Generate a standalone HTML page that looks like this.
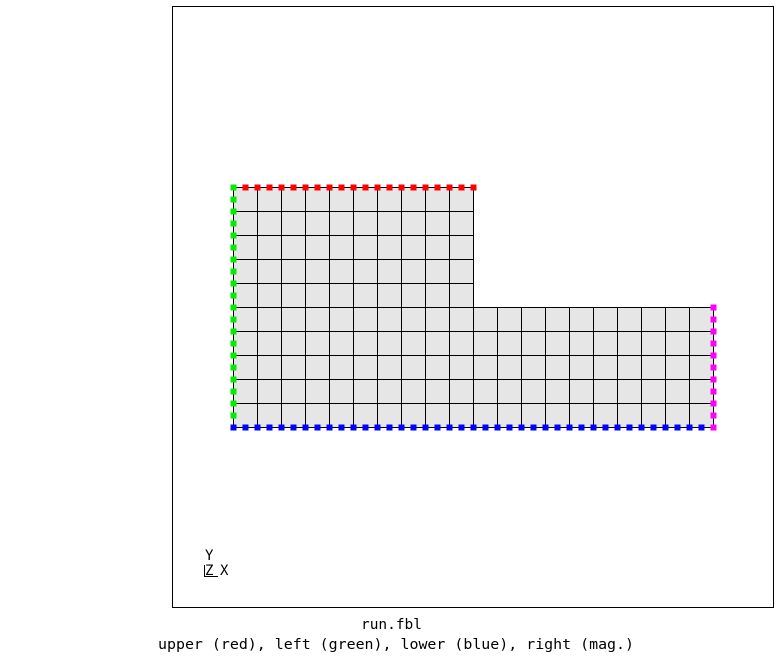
<!DOCTYPE html>
<html><head><meta charset="utf-8"><style>
html,body{margin:0;padding:0;background:#fff;width:784px;height:672px;overflow:hidden}
svg{display:block}
text{font-family:"DejaVu Sans Mono","Liberation Mono",monospace;font-size:14px;fill:#000}
</style></head><body>
<svg id="s" width="784" height="672">
<rect x="172.5" y="6.5" width="601" height="601" fill="none" stroke="#000"/>
<g id="mesh"></g>
<g id="marks"></g>
<g stroke="#000" fill="none">
<line x1="204.5" y1="565" x2="204.5" y2="577"/><line x1="204" y1="576.5" x2="218" y2="576.5"/>
</g>
<text x="205" y="560" font-size="11">Y</text>
<text x="205" y="575" font-size="11">Z</text>
<text x="220" y="575" font-size="11">X</text>
<text x="361" y="629" textLength="61" lengthAdjust="spacingAndGlyphs">run.fbl</text>
<text x="158" y="649" textLength="476" lengthAdjust="spacingAndGlyphs">upper (red), left (green), lower (blue), right (mag.)</text>
</svg>
<script>
const colsTop = 10, colsAll = 20, rowsTop = 5, rowsAll = 10;
const x0 = 233, y0 = 187, cell = 24;
const NS = "http://www.w3.org/2000/svg";
const mesh = document.getElementById('mesh');
function px(c){return x0 + c*cell;}
function py(r){return y0 + r*cell;}
function add(g,tag,attrs){const e=document.createElementNS(NS,tag);for(const k in attrs)e.setAttribute(k,attrs[k]);g.appendChild(e);return e;}
let r1 = add(mesh,'rect',{x:px(0),y:py(0),width:colsTop*cell,height:rowsAll*cell,fill:'#e6e6e6'});


let r2 = add(mesh,'rect',{x:px(0),y:py(rowsTop),width:colsAll*cell,height:(rowsAll-rowsTop)*cell,fill:'#e6e6e6'});


for(let c=0;c<=colsAll;c++){
  const top = c<=colsTop ? py(0) : py(rowsTop);
  const l = add(mesh,'line',{x1:px(c)+.5,y1:top,x2:px(c)+.5,y2:py(rowsAll)+1,stroke:'#000'});
  
  
}
for(let r=0;r<=rowsAll;r++){
  const right = r<rowsTop ? px(colsTop) : px(colsAll);
  const l = add(mesh,'line',{x1:px(0),y1:py(r)+.5,x2:right+1,y2:py(r)+.5,stroke:'#000'});
  
  
}
const marks = document.getElementById('marks');
function mk(x,y,col,name){
  const e = add(marks,'rect',{x:x-2.5,y:y-2.5,width:6,height:6,fill:col});
  
  
}
const h = cell/2;
for(let i=1;i<=colsTop*2;i++) mk(px(0)+i*h, py(0), '#ff0000','upper-marker');
for(let i=0;i<rowsAll*2;i++) mk(px(0), py(0)+i*h, '#00ee00','left-marker');
for(let i=0;i<colsAll*2;i++) mk(px(0)+i*h, py(rowsAll), '#0000ff','lower-marker');
for(let i=0;i<=(rowsAll-rowsTop)*2;i++) mk(px(colsAll), py(rowsTop)+i*h, '#ff00ff','right-marker');
</script>
</body></html>
